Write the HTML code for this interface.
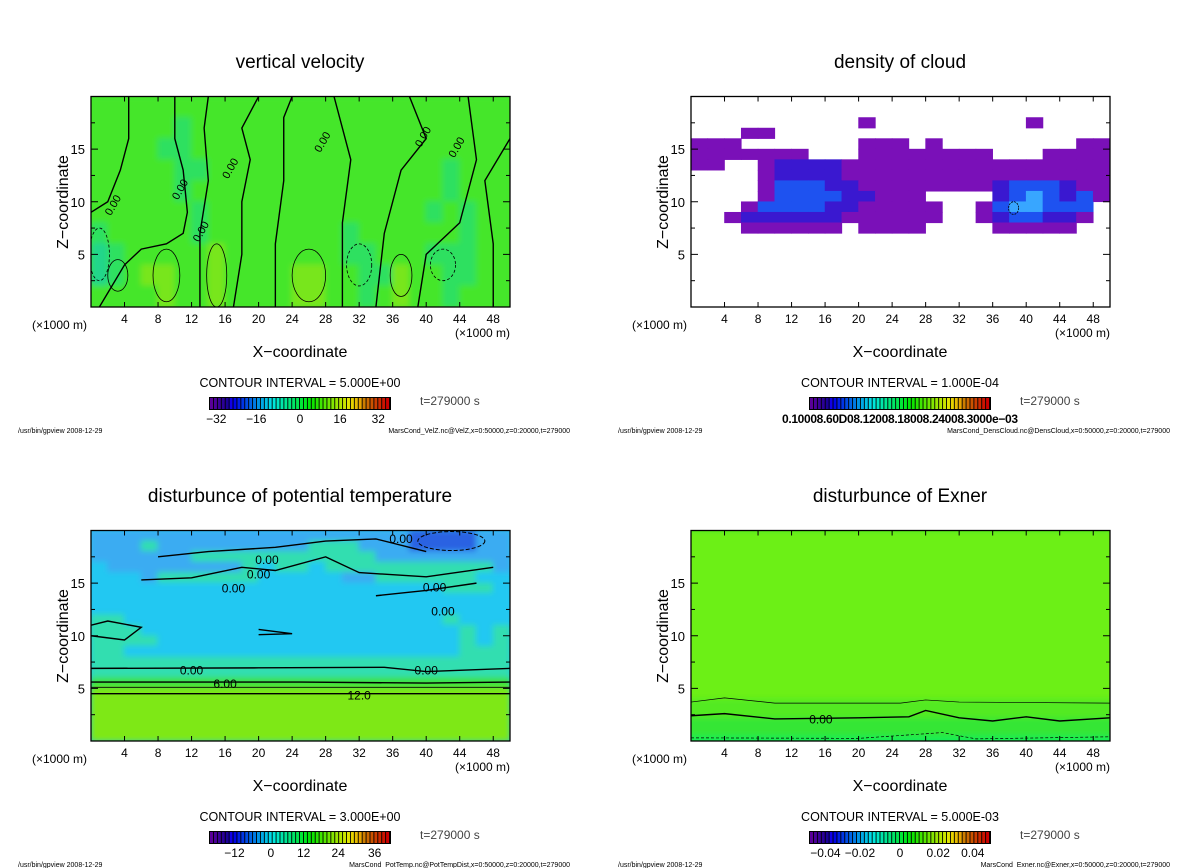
<!DOCTYPE html>
<html><head><meta charset="utf-8">
<style>
html,body{margin:0;padding:0;background:#fff;}
svg{display:block;font-family:"Liberation Sans","DejaVu Sans",sans-serif;}
</style></head>
<body>
<svg id="fig" width="1200" height="868" viewBox="0 0 1200 868" xmlns="http://www.w3.org/2000/svg">
<defs>
<filter id="soft" x="-2%" y="-2%" width="104%" height="104%"><feGaussianBlur stdDeviation="3"/></filter>
</defs>
</svg>
<script>
// ---------- data ----------
const xTicks = [4,8,12,16,20,24,28,32,36,40,44,48];
const zTicks = [5,10,15];
const titles = ["vertical velocity","density of cloud","disturbunce of potential temperature","disturbunce of Exner"];
const intervals = ["CONTOUR INTERVAL = 5.000E+00","CONTOUR INTERVAL = 1.000E-04","CONTOUR INTERVAL = 3.000E+00","CONTOUR INTERVAL = 5.000E-03"];
const files = ["MarsCond_VelZ.nc@VelZ,x=0:50000,z=0:20000,t=279000","MarsCond_DensCloud.nc@DensCloud,x=0:50000,z=0:20000,t=279000","MarsCond_PotTemp.nc@PotTempDist,x=0:50000,z=0:20000,t=279000","MarsCond_Exner.nc@Exner,x=0:50000,z=0:20000,t=279000"];
const cbLabels = [["-32","-16","0","16","32"],[],["-12","0","12","24","36"],["-0.04","-0.02","0","0.02","0.04"]];
const cbLabelPos = [[0.04,0.26,0.5,0.72,0.93],[],[0.14,0.34,0.52,0.71,0.91],[0.09,0.28,0.5,0.71,0.9]];
// vertical velocity grid: rows z 18-20 down to 0-2 (2 km each), 25 cols of 2 km
const velRows = [
"ggggggggggggggggggggggggg",
"gggggcggggggggggggggggggg",
"ggggccggggggggggggggggggg",
"gggggccggggggggggggggcggg",
"gggggcgggggggggggggggcggg",
"ggggggcgggggggggggggcgcgg",
"cgggggcggggggggcggggggcgg",
"tcgggggygggggggccgggcccgg",
"tcgyyggyggggyyggccyggccgg",
"ggggyggyggggyyggcgyggcggg"];
const velColors = {g:"#44e62a",c:"#2fe060",y:"#78e61e",t:"#22d68a"};
// cloud density: rows z 19 .. 0 (1 km), 25 cols
const cloudRows = [
"0000000000000000000000000","0000000000000000000000000",
"0000000000100000000010000","0001100000000000000000000",
"1110000000111010000000011","1111111000111111110001111",
"1100122221111111111111111","0000122221111111111111111",
"0000133322111111112333211","0000133332211100002343231",
"0001333322111110013443330","0012222221111110012332210",
"0001111110111100001111100","0000000000000000000000000",
"0000000000000000000000000","0000000000000000000000000",
"0000000000000000000000000","0000000000000000000000000",
"0000000000000000000000000","0000000000000000000000000"];
const cloudColors = {"1":"#7a10b8","2":"#3a18d0","3":"#1e52f0","4":"#38a6ff"};
// potential temperature: rows z 19..0
const ptRows = [
"bbbbbbbbbbbbbbbbbbbDDDDbb","bbbmbbbbbbbbbmmmbbbDDDDbb",
"bbbbbbmmmmmmmmmmmbbbbbbbb","cbbbbbbbbmcmmcmmmmmmmmmmb",
"cccbmmmmmmcccccbbmmmmmmcc","cccccccccccccccccccccmmmc",
"ccccccccccccccccccccccccc","ccccccccccccccccccccccccc",
"mmcccccccccccccccccccmccc","mmmcccccccccccccccccccmcm",
"mmmmccccccccccccccccccmcm","mmccccccccccccccccccccmmm",
"mmmmmmmmmmmmmmmmmmmmmmmmm","mmmmmmmmmmmmmmmmmmmmmmmmm",
"ggggggggggggggggggggggggg","yyyyyyyyyyyyyyyyyyyyyyyyy",
"yyyyyyyyyyyyyyyyyyyyyyyyy","yyyyyyyyyyyyyyyyyyyyyyyyy",
"yyyyyyyyyyyyyyyyyyyyyyyyy","yyyyyyyyyyyyyyyyyyyyyyyyy"];
const ptColors = {b:"#3aacf2",c:"#24c8f2",D:"#2a62e2",m:"#30deb0",g:"#3ee23c",y:"#7ee818"};
// exner bands: top z of each band
const exBandTop = [20,4.0,2.2,0.5];
const exBandColor = ["#6cf012","#52ea22","#34e636","#14ee52"];
// contour lines (x km, z km)
const velLines = [
[[1,0],[4,4],[6,5.5],[9,6],[11,7],[11.5,9],[11,13],[10,16],[10,20]],
[[4.5,20],[4.5,16],[3.5,13],[2,10],[0,9]],
[[13,0],[13,7],[14,12],[13.5,17],[14,20]],
[[17,0],[18,5],[18,10],[19,14],[18,17],[20,20]],
[[22,0],[22,6],[23,12],[23,18],[24,20]],
[[30,0],[30,8],[31,14],[29,20]],
[[34,0],[35,7],[37,13],[40,16],[38,20]],
[[39,0],[40,5],[44,8],[46,14],[45,20]],
[[48,0],[48,6],[47,12],[50,16]]];
const velEll = [[3.2,3,1.2,1.5],[9,3,1.6,2.5],[15,3,1.2,3],[26,3,2,2.5],[37,3,1.3,2]];
const velDash = [[1,5,1.2,2.5],[32,4,1.5,2],[42,4,1.5,1.5]];
const ptLines = [[[0,6.9],[20,6.95],[35,7.0],[40,6.6],[50,6.9]],[[0,5.6],[25,5.6],[40,5.5],[50,5.6]],[[0,5.1],[50,5.1]],[[0,4.5],[30,4.5],[50,4.5]],
[[6,15.3],[12,15.5],[18,16.5],[22,16.2],[28,17.5],[32,16],[40,15.6],[48,16.5]],
[[8,17.5],[14,18],[22,18.4],[28,19],[34,19.2],[40,18]],
[[34,13.8],[40,14.3],[46,15]],[[20,10.6],[24,10.2],[20,10.1]],[[0,10],[4,9.6],[6,10.8],[2,11.4],[0,11]]];
const ptDash = [[43,19,4,0.9]];
const exLines = [[[0,2.4],[4,2.6],[10,2.1],[20,2.2],[26,2.3],[28,2.9],[32,2.2],[36,1.9],[40,2.3],[44,1.9],[50,2.2]]];
const exThin = [[[0,3.7],[4,4.1],[10,3.6],[25,3.6],[28,3.9],[32,3.7],[50,3.6]]];

// ---------- helpers ----------
const NS="http://www.w3.org/2000/svg";
const svg=document.getElementById('fig');
function mk(tag,attrs,parent){const e=document.createElementNS(NS,tag);for(const k in attrs)e.setAttribute(k,attrs[k]);(parent||svg).appendChild(e);return e;}
function txt(s,x,y,size,anchor,parent,extra){const t=mk('text',Object.assign({x:x,y:y,'font-size':size,'text-anchor':anchor||'middle',fill:'#000'},extra||{}),parent);t.textContent=s;return t;}

const panels=[{dx:0,dy:0},{dx:600,dy:0},{dx:0,dy:434},{dx:600,dy:434}];
panels.forEach((p,i)=>{
  const X0=91+p.dx,X1=510+p.dx,Y0=96.5+p.dy,Y1=307+p.dy;
  const xs=x=>X0+x/50*(X1-X0);
  const zs=z=>Y1-z/20*(Y1-Y0);
  const g=mk('g',{});
  
  
  const cid='clip'+i;
  const cp=mk('clipPath',{id:cid},g);mk('rect',{x:X0,y:Y0,width:X1-X0,height:Y1-Y0},cp);
  const plot=mk('g',{'clip-path':'url(#'+cid+')'},g);
  
  
  mk('rect',{x:X0,y:Y0,width:X1-X0,height:Y1-Y0,fill:i==1?'#fff':(i==2?'#24c8f2':'#44e62a')},plot);
  const field=mk('g',i==1?{}:{filter:'url(#soft)'},plot);
  if(i==0){
    velRows.forEach((row,r)=>{const z1=20-2*r;for(let c=0;c<row.length;c++){const cell=mk('rect',{x:xs(2*c)-0.5,y:zs(z1)-0.5,width:xs(2)-xs(0)+1,height:zs(0)-zs(2)+1,fill:velColors[row[c]]},field);
      }});
  } else if(i==1){
    cloudRows.forEach((row,r)=>{const z1=20-r;for(let c=0;c<row.length;c++){if(row[c]==='0')continue;const cell=mk('rect',{x:xs(2*c)-0.3,y:zs(z1)-0.3,width:xs(2)-xs(0)+0.6,height:zs(0)-zs(1)+0.6,fill:cloudColors[row[c]]},field);
      }});
  } else if(i==2){
    ptRows.forEach((row,r)=>{const z1=20-r;for(let c=0;c<row.length;c++){const cell=mk('rect',{x:xs(2*c)-0.5,y:zs(z1)-0.5,width:xs(2)-xs(0)+1,height:zs(0)-zs(1)+1,fill:ptColors[row[c]]},field);
      }});
  } else {
    exBandTop.forEach((t,k)=>{const b=mk('rect',{x:X0-5,y:zs(t),width:X1-X0+10,height:zs(0)-zs(t)+5,fill:exBandColor[k]},field);
      });
  }
  const line=(pts,w,dash)=>{const l=mk('polyline',{points:pts.map(q=>xs(q[0])+','+zs(q[1])).join(' '),fill:'none',stroke:'#000','stroke-width':w,'stroke-dasharray':dash||'none'},plot);return l;};
  const ell=(e,w,dash)=>{const el=mk('ellipse',{cx:xs(e[0]),cy:zs(e[1]),rx:xs(e[2])-xs(0),ry:zs(0)-zs(e[3]),fill:'none',stroke:'#000','stroke-width':w,'stroke-dasharray':dash||'none'},plot);};
  if(i==0){velLines.forEach(l=>line(l,1.4));velEll.forEach(e=>ell(e,0.8));velDash.forEach(e=>ell(e,0.8,'3,2'));
    [[3,9.5],[11,11],[13.5,7],[17,13],[28,15.5],[40,16],[44,15]].forEach(q=>txt('0.00',xs(q[0]),zs(q[1]),11,'middle',plot,{transform:'rotate(-60 '+xs(q[0])+' '+zs(q[1])+')'}));}
  if(i==1){ell([38.5,9.4,0.6,0.6],0.8,'2,1');}
  if(i==2){ptLines.forEach((l,k)=>line(l,k==2?0.8:1.4));ptDash.forEach(e=>ell(e,1,'4,2'));
    [[12,6.7,'0.00'],[40,6.7,'0.00'],[16,5.4,'6.00'],[32,4.3,'12.0'],[20,15.8,'0.00'],[21,17.2,'0.00'],[17,14.5,'0.00'],[37,19.2,'0.00'],[41,14.6,'0.00'],[42,12.3,'0.00']].forEach(q=>{
      const tt=txt(q[2],xs(q[0]),zs(q[1])+4,12,'middle',plot);});}
  if(i==3){exLines.forEach(l=>line(l,1.4));exThin.forEach(l=>line(l,0.7));line([[0,0.3],[20,0.25],[30,0.8],[34,0.2],[50,0.4]],0.7,'3,2');
    txt('0.00',xs(15.5),zs(2.05)+4,12,'middle',plot);}
  // frame + ticks
  const fr=mk('rect',{x:X0,y:Y0,width:X1-X0,height:Y1-Y0,fill:'none',stroke:'#000','stroke-width':1.3},g);
  
  xTicks.forEach(t=>{mk('line',{x1:xs(t),x2:xs(t),y1:Y1,y2:Y1-5,stroke:'#000'},g);mk('line',{x1:xs(t),x2:xs(t),y1:Y0,y2:Y0+5,stroke:'#000'},g);
    const l=txt(String(t),xs(t),Y1+16,12,'middle',g);});
  for(let z=2.5;z<20;z+=2.5){const L=(z%5===0)?7:4;mk('line',{x1:X0,x2:X0+L,y1:zs(z),y2:zs(z),stroke:'#000'},g);mk('line',{x1:X1,x2:X1-L,y1:zs(z),y2:zs(z),stroke:'#000'},g);}
  zTicks.forEach(t=>{const l=txt(String(t),X0-6,zs(t)+5,13,'end',g);});
  const ti=txt(titles[i],300+p.dx,68+p.dy,19,'middle',g);
  const yt=txt('Z\u2212coordinate',0,0,16,'middle',g,{transform:'translate('+(68+p.dx)+','+(202+p.dy)+') rotate(-90)'});
  const u1=txt('(\u00d71000 m)',32+p.dx,329+p.dy,12,'start',g);
  const u2=txt('(\u00d71000 m)',455+p.dx,337+p.dy,12,'start',g);
  const xt=txt('X\u2212coordinate',300+p.dx,357+p.dy,16,'middle',g);
  const ci=txt(intervals[i],300+p.dx,387+p.dy,12.5,'middle',g);
  // colorbar
  const cb=mk('g',{},g);
  const CX0=209+p.dx,CX1=391+p.dx,CY0=397+p.dy,CY1=410+p.dy,N=46;
  mk('rect',{x:CX0,y:CY0,width:CX1-CX0,height:CY1-CY0,fill:'#000'},cb);
  for(let k=0;k<N;k++){const t=k/(N-1);let h=275-275*t;let light=t>0.85?40:(t<0.1?30:45);
    mk('rect',{x:CX0+1+k*(CX1-CX0-2)/N,y:CY0+1,width:(CX1-CX0-2)/N-0.9,height:CY1-CY0-2,fill:'hsl('+h+',100%,'+light+'%)'},cb);}
  cbLabels[i].forEach((s,k)=>{const l=txt(s.replace('-','\u2212'),CX0+cbLabelPos[i][k]*(CX1-CX0),423+p.dy,12,'middle',cb);});
  if(i==1){const l=txt('0.10008.60D08.12008.18008.24008.3000e\u221203',300+p.dx,423+p.dy,12,'middle',cb,{'font-weight':'bold',textLength:236});}
  const tt=txt('t=279000  s',420+p.dx,405+p.dy,12,'start',g,{fill:'#444'});
  const f1=txt('/usr/bin/gpview   2008-12-29',18+p.dx,433+p.dy,7,'start',g);
  const f2=txt(files[i],570+p.dx,433+p.dy,7,'end',g);
});
</script>
</body></html>
